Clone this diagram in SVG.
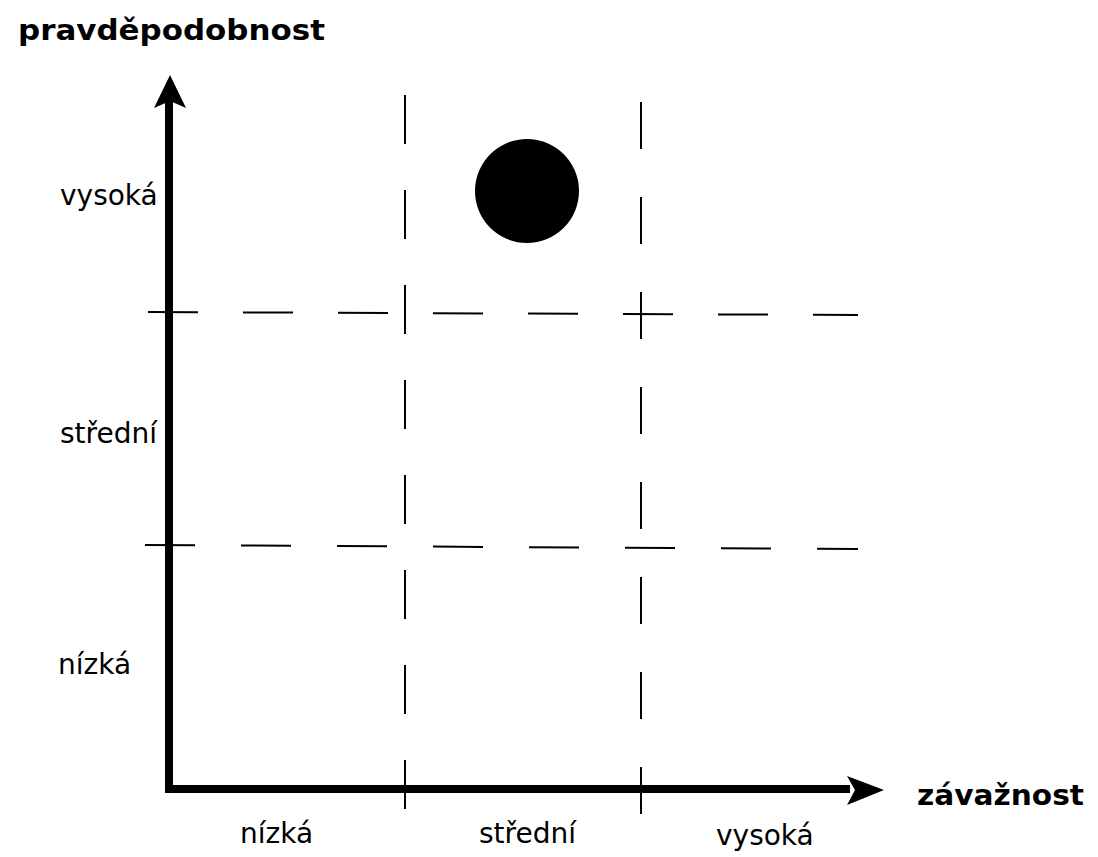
<svg xmlns="http://www.w3.org/2000/svg" width="1098" height="857" viewBox="0 0 1098 857">
  <style>
    .lbl { font-family: "DejaVu Sans", "Liberation Sans", sans-serif; font-size: 28px; fill: #000; }
    .ttl { font-family: "DejaVu Sans", "Liberation Sans", sans-serif; font-size: 29px; font-weight: bold; fill: #000; }
    .dash { stroke: #000; stroke-width: 2; fill: none; }
    .axis { stroke: #000; stroke-width: 8; fill: none; }
  </style>
  <rect width="1098" height="857" fill="#fff"/>
  <g id="grid">
    <line class="dash" x1="148" y1="312" x2="858" y2="315" stroke-dasharray="50 45"/>
    <line class="dash" x1="145" y1="545" x2="858" y2="549" stroke-dasharray="50 46"/>
    <line class="dash" x1="405" y1="95" x2="405" y2="810" stroke-dasharray="49 46"/>
    <line class="dash" x1="641" y1="102" x2="641" y2="815" stroke-dasharray="47 48"/>
  </g>
  <g id="axes">
    <polyline class="axis" points="169,100 169,789 850,789"/>
    <path d="M170,75 L186,108 L170,101 L154,108 Z" fill="#000"/>
    <path d="M884,790 L847,776 L855,790 L847,805 Z" fill="#000"/>
  </g>
  <g id="point">
    <circle cx="527" cy="191" r="52" fill="#000"/>
  </g>
  <g id="labels">
    <text class="ttl" x="18" y="40" textLength="307" lengthAdjust="spacingAndGlyphs">pravděpodobnost</text>
    <text class="ttl" x="917" y="805" textLength="167" lengthAdjust="spacingAndGlyphs">závažnost</text>
    <text class="lbl" x="60" y="205">vysoká</text>
    <text class="lbl" x="60" y="443">střední</text>
    <text class="lbl" x="58" y="674">nízká</text>
    <text class="lbl" x="240" y="843">nízká</text>
    <text class="lbl" x="479" y="843">střední</text>
    <text class="lbl" x="716" y="845">vysoká</text>
  </g>
</svg>
